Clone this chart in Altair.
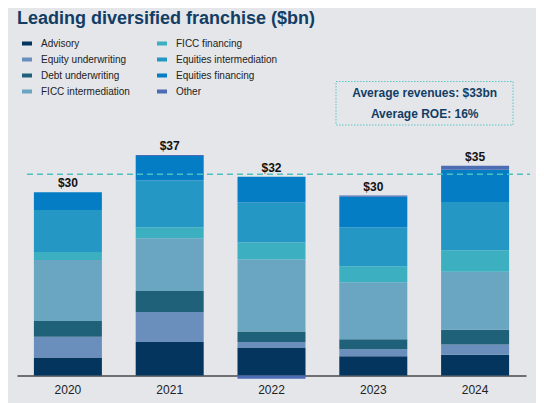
import altair as alt
import pandas as pd

FONT = "Liberation Sans"

years = ["2020", "2021", "2022", "2023", "2024"]
series = ["Advisory", "Equity underwriting", "Debt underwriting", "FICC intermediation",
          "FICC financing", "Equities intermediation", "Equities financing", "Other"]
colors = ["#03355f", "#6b8fbd", "#1e6178", "#6aa5c1",
          "#3cb0c0", "#2597c4", "#057dc5", "#4c6db4"]

advisory = [2.95, 5.5, 4.6, 3.15, 3.4]
equity_uw = [3.4, 4.9, 0.9, 1.15, 1.7]
debt_uw = [2.6, 3.45, 1.7, 1.65, 2.4]
ficc_int = [10.0, 8.65, 11.8, 9.35, 9.5]
ficc_fin = [1.3, 1.8, 2.8, 2.6, 3.55]
eq_int = [6.9, 7.65, 6.55, 6.4, 7.9]
eq_fin = [2.9, 4.05, 4.25, 5.0, 5.3]
other = [0.0, 0.15, -0.55, 0.2, 0.65]
totals = ["$30", "$37", "$32", "$30", "$35"]
avg_revenue = 33

values = [advisory, equity_uw, debt_uw, ficc_int, ficc_fin, eq_int, eq_fin, other]

rows = []
for i, (name, vals) in enumerate(zip(series, values)):
    for y, v in zip(years, vals):
        rows.append({"year": y, "segment": name, "value": v, "idx": i})
df = pd.DataFrame(rows)

tops = df[df.value > 0].groupby("year", as_index=False)["value"].sum()
tops["label"] = totals

x = alt.X("year:N", title=None,
          scale=alt.Scale(paddingInner=0.33, paddingOuter=0.165),
          axis=alt.Axis(labelAngle=0, ticks=False, domainColor="#707070", domainWidth=2,
                        labelFontSize=12, labelFont=FONT, labelColor="#222222",
                        labelPadding=9, grid=False))
yscale = alt.Scale(domain=[0, 40])

bars = alt.Chart(df).mark_bar(size=68).encode(
    x=x,
    y=alt.Y("sum(value):Q", scale=yscale, axis=None, stack="zero"),
    color=alt.Color("segment:N", scale=alt.Scale(domain=series, range=colors),
                    legend=alt.Legend(title=None, orient="none", legendX=5, legendY=-93,
                                      columns=2, symbolType="M-1,-0.4H1V0.4H-1Z",
                                      symbolSize=100, symbolStrokeWidth=0, symbolOpacity=1,
                                      labelFontSize=10, labelFont=FONT, labelColor="#222222",
                                      labelOffset=9, columnPadding=27, rowPadding=6,
                                      padding=0)),
    order=alt.Order("idx:Q", sort="ascending"),
)

labels = alt.Chart(tops).mark_text(font=FONT, fontSize=12, fontWeight="bold",
                                   color="#111111", baseline="alphabetic", dy=-5).encode(
    x=alt.X("year:N"),
    y=alt.Y("value:Q", scale=yscale),
    text="label:N",
)

avg_line = alt.Chart(pd.DataFrame({"avg": [avg_revenue]})).mark_rule(
    color="#4fbfbf", strokeWidth=1.5, strokeDash=[6, 4]).encode(
    y=alt.Y("avg:Q", scale=yscale),
    x=alt.value(10), x2=alt.value(513),
)

box = alt.Chart(pd.DataFrame({"t": [0]})).mark_rect(
    fill="#e4e6ea", stroke="#5cc6c6", strokeWidth=1, strokeDash=[1.5, 1.5]).encode(
    x=alt.value(319), x2=alt.value(496), y=alt.value(-50), y2=alt.value(-6.5),
)

box_text = alt.Chart(pd.DataFrame({
    "line": ["Average revenues: $33bn", "Average ROE: 16%"],
    "py": [-38.2, -17.2],
})).mark_text(font=FONT, fontSize=12, fontWeight="bold", color="#123d64",
              baseline="middle", align="center").encode(
    x=alt.value(407.7),
    y=alt.Y("py:Q", scale=None),
    text="line:N",
)

chart = alt.layer(bars, labels, avg_line, box, box_text).properties(
    width=509, height=244,
    autosize=alt.AutoSizeParams(type="none"),
    padding={"left": 9, "top": 123.5, "right": 10, "bottom": 30},
    title=alt.Title("Leading diversified franchise ($bn)", anchor="start", fontSize=18,
                    font=FONT, fontWeight="bold", color="#123d64", offset=15, dy=18,
                    baseline="alphabetic"),
).configure(background="#e4e6ea").configure_view(strokeWidth=0)

chart.save("out.html", embed_options={"renderer": "svg", "actions": False})
